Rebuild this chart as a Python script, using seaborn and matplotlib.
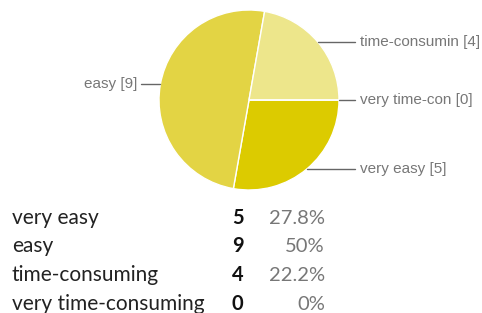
import numpy as np
import matplotlib.pyplot as plt
import seaborn as sns

# answer categories and counts
categories = ["very easy", "easy", "time-consuming", "very time-consuming"]
short_labels = ["very easy", "easy", "time-consumin", "very time-con"]
counts = [5, 9, 4, 0]
percents = ["27.8%", "50%", "22.2%", "0%"]
colors = ["#dccb00", "#e3d444", "#ede68b", "#f4f0c0"]

sns.set_theme(style="white")
plt.rcParams["font.family"] = ["Lato", "DejaVu Sans"]

W, H = 482, 313
fig = plt.figure(figsize=(W / 100, H / 100), dpi=100)

# background axes in pixel units for the table
bg = fig.add_axes([0, 0, 1, 1])
bg.set_xlim(0, W)
bg.set_ylim(H, 0)
bg.axis("off")

# pie axes: center (249, 100), radius 90 px
cx, cy, r = 249, 100, 90
pie_ax = fig.add_axes([(cx - r) / W, (H - cy - r) / H, 2 * r / W, 2 * r / H])
wedges, _ = pie_ax.pie(counts, colors=colors, startangle=0, counterclock=False,
                       wedgeprops=dict(edgecolor="white", linewidth=1))
pie_ax.set_xlim(-1, 1)
pie_ax.set_ylim(-1, 1)
pie_ax.set_aspect("equal")
pie_ax.axis("off")

for w, lab, n in zip(wedges, short_labels, counts):
    ang = np.deg2rad((w.theta1 + w.theta2) / 2)
    x, y = np.cos(ang), np.sin(ang)
    if x >= 0:
        x_end, x_txt, ha = 1.178, 1.233, "left"
    else:
        x_end, x_txt, ha = -1.2, -1.244, "right"
    pie_ax.plot([x, x_end], [y, y], color="#666666", lw=1, clip_on=False)
    pie_ax.text(x_txt, y, f"{lab} [{n}]", ha=ha, va="center", color="#777777",
                fontsize=11, family=["Liberation Sans", "DejaVu Sans"], clip_on=False)

# summary table
row_base = [224, 252, 281, 310]
for cat, n, p, y in zip(categories, counts, percents, row_base):
    bg.text(12, y, cat, ha="left", va="baseline", fontsize=15, color="#222222")
    bg.text(232, y, str(n), ha="left", va="baseline", fontsize=14.5,
            fontweight="bold", color="#111111")
    bg.text(325, y, p, ha="right", va="baseline", fontsize=14.5, color="#777777")

fig.savefig("out.png", dpi=100)
